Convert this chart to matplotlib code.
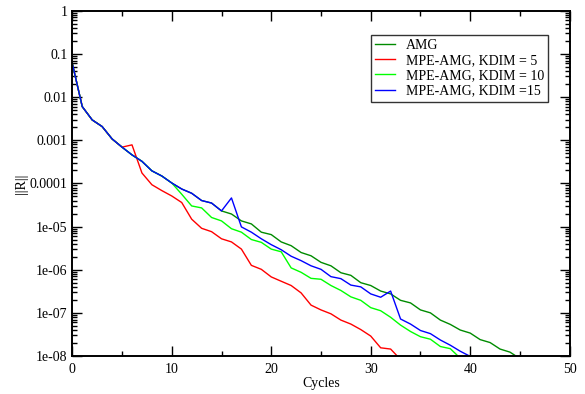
import numpy as np
import matplotlib
matplotlib.use("Agg")
import matplotlib.pyplot as plt
from matplotlib.ticker import FixedLocator, FixedFormatter, MultipleLocator

plt.rcParams['font.family'] = ['Liberation Serif', 'DejaVu Serif']

# residual norm per cycle
# all four runs share the first cycles
common = [6.0e-2, 6.0e-3, 2.95e-3, 2.07e-3, 1.07e-3, 6.9e-4, 4.57e-4, 3.24e-4,
          1.95e-4, 1.48e-4, 1.02e-4, 7.4e-5, 5.9e-5, 4.0e-5, 3.5e-5, 2.3e-5]

amg = common + [1.95e-5, 1.35e-5, 1.15e-5, 7.4e-6, 6.5e-6, 4.4e-6, 3.6e-6, 2.5e-6,
                2.1e-6, 1.48e-6, 1.23e-6, 8.5e-7, 7.4e-7, 5.0e-7, 4.3e-7, 3.2e-7,
                2.75e-7, 1.95e-7, 1.7e-7, 1.17e-7, 1.0e-7, 6.8e-8, 5.4e-8, 4.0e-8,
                3.4e-8, 2.4e-8, 2.05e-8, 1.45e-8, 1.23e-8, 8.7e-9]

kdim5 = common[:6] + [7.8e-4, 1.74e-4, 9.3e-5, 6.8e-5, 5.1e-5, 3.6e-5, 1.48e-5,
                      9.1e-6, 7.6e-6, 5.2e-6, 4.4e-6, 3.0e-6, 1.26e-6, 1.02e-6,
                      6.8e-7, 5.4e-7, 4.3e-7, 2.9e-7, 1.51e-7, 1.17e-7, 9.5e-8,
                      6.8e-8, 5.5e-8, 4.1e-8, 2.9e-8, 1.55e-8, 1.45e-8, 8.3e-9]

kdim10 = common[:11] + [5.6e-5, 3.0e-5, 2.7e-5, 1.62e-5, 1.35e-5, 8.9e-6, 7.4e-6,
                        5.0e-6, 4.3e-6, 3.0e-6, 2.6e-6, 1.1e-6, 8.7e-7, 6.3e-7,
                        6.0e-7, 4.3e-7, 3.3e-7, 2.35e-7, 1.95e-7, 1.32e-7, 1.12e-7,
                        7.9e-8, 5.2e-8, 3.7e-8, 2.8e-8, 2.45e-8, 1.66e-8, 1.48e-8,
                        8.9e-9]

kdim15 = common + [4.6e-5, 9.8e-6, 7.4e-6, 5.2e-6, 3.8e-6, 2.9e-6, 2.05e-6, 1.62e-6,
                   1.23e-6, 1.02e-6, 6.9e-7, 6.2e-7, 4.4e-7, 4.0e-7, 2.75e-7, 2.3e-7,
                   3.2e-7, 7.2e-8, 5.5e-8, 3.9e-8, 3.3e-8, 2.35e-8, 1.78e-8, 1.29e-8,
                   9.8e-9]

labels = ["AMG", "MPE-AMG, KDIM = 5", "MPE-AMG, KDIM = 10", "MPE-AMG, KDIM =15"]
colors = ["#008b00", "#ff0000", "#00ff00", "#0000ff"]

ytick_vals = [1, 0.1, 0.01, 0.001, 1e-4, 1e-5, 1e-6, 1e-7, 1e-8]
ytick_labels = ["1", "0.1", "0.01", "0.001", "0.0001", "1e-05", "1e-06", "1e-07", "1e-08"]

fig = plt.figure(figsize=(5.85, 3.94), dpi=100)
ax = fig.add_axes([0.1236, 0.0964, 0.8502, 0.8764])

for y, lab, c in zip([amg, kdim5, kdim10, kdim15], labels, colors):
    ax.plot(np.arange(len(y)), y, color=c, lw=1.0, label=lab)

ax.set_yscale('log')
ax.set_xlim(0, 50)
ax.set_ylim(1e-8, 1)

ax.xaxis.set_major_locator(MultipleLocator(10))
ax.xaxis.set_minor_locator(MultipleLocator(5))
ax.yaxis.set_major_locator(FixedLocator(ytick_vals))
ax.yaxis.set_major_formatter(FixedFormatter(ytick_labels))
minors = [m * 10.0**e for e in range(-8, 0) for m in range(2, 10)]
ax.yaxis.set_minor_locator(FixedLocator(minors))
ax.yaxis.set_minor_formatter(FixedFormatter([""] * len(minors)))

ax.tick_params(which='both', direction='in', top=True, right=True, labelsize=10, width=1.0)
ax.tick_params(which='major', length=7)
ax.tick_params(which='minor', length=3.5)
ax.tick_params(axis='x', pad=5)
for s in ax.spines.values():
    s.set_linewidth(1.4)

ax.set_xlabel("Cycles", fontsize=10, labelpad=1)
ax.set_ylabel("||R||", fontsize=10, labelpad=1)

leg = ax.legend(loc='upper right', bbox_to_anchor=(548 / 585, 1 - 35 / 394),
                bbox_transform=fig.transFigure, fontsize=10, frameon=True,
                fancybox=False, handlelength=1.45, handletextpad=0.75,
                labelspacing=0.15, borderpad=0.3, borderaxespad=0)
leg.get_frame().set_edgecolor('black')
leg.get_frame().set_linewidth(1.0)

fig.savefig("out.png", dpi=100)
